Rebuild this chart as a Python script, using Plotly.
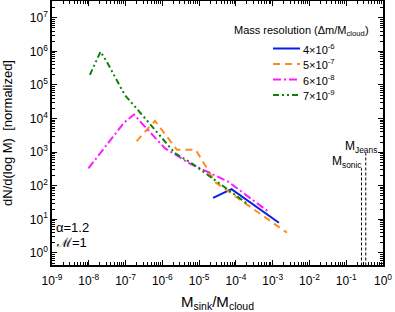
import plotly.graph_objects as go

# ---- data ----
blue_x = [2.4e-5, 7.6e-5, 1.48e-3]
blue_y = [43.6, 79.4, 7.9]

orange_x = [2.0e-7, 6.3e-7, 2.5e-6, 8.1e-6, 2.7e-5, 2.45e-3]
orange_y = [2140, 8500, 1175, 1175, 129, 4.0]

magenta_x = [9.8e-9, 9.1e-8, 1.70e-7, 2.75e-7, 1.17e-6, 5.6e-6, 6.0e-5, 7.4e-4]
magenta_y = [331, 7590, 13200, 7240, 1318, 457, 135, 17.4]

green_x = [1.07e-8, 2.09e-8, 3.09e-8, 9.55e-8, 3.39e-7, 2.19e-6, 6.31e-6, 1.95e-4]
green_y = [2.0e5, 9.8e5, 4.9e5, 5.0e4, 1.02e4, 933, 468, 30.2]

series_names = ["4×10<sup>-6</sup>", "5×10<sup>-7</sup>", "6×10<sup>-8</sup>", "7×10<sup>-9</sup>"]

m_sonic = 0.26
m_jeans = 0.34
m_sonic_top = 331
m_jeans_top = 933

x_tick_vals = [1e-9, 1e-8, 1e-7, 1e-6, 1e-5, 1e-4, 1e-3, 1e-2, 1e-1, 1e0]
x_tick_text = ["10<sup>-9</sup>", "10<sup>-8</sup>", "10<sup>-7</sup>", "10<sup>-6</sup>",
               "10<sup>-5</sup>", "10<sup>-4</sup>", "10<sup>-3</sup>", "10<sup>-2</sup>",
               "10<sup>-1</sup>", "10<sup>0</sup>"]
y_tick_vals = [1e0, 1e1, 1e2, 1e3, 1e4, 1e5, 1e6, 1e7]
y_tick_text = ["10<sup>0</sup>", "10<sup>1</sup>", "10<sup>2</sup>", "10<sup>3</sup>",
               "10<sup>4</sup>", "10<sup>5</sup>", "10<sup>6</sup>", "10<sup>7</sup>"]

FONT = "Liberation Sans, Arial, sans-serif"

# plot-area geometry in pixels (for paper-coordinate placement of labels)
L, R, T, B = 52, 383, 1, 265
def px(x):
    return (x - L) / (R - L)
def py(y):
    return 1 - (y - T) / (B - T)

fig = go.Figure()
styles = [
    ("#0a1ee6", "solid"),
    ("#ff8c1a", "7px,5px"),
    ("#ff1aff", "8px,3px,2px,3px"),
    ("#0a820a", "6px,3px,2px,3px,2px,3px"),
]
for (xs, ys), name, (col, dash) in zip(
        [(blue_x, blue_y), (orange_x, orange_y), (magenta_x, magenta_y), (green_x, green_y)],
        series_names, styles):
    fig.add_trace(go.Scatter(x=xs, y=ys, mode="lines", name=name, showlegend=False,
                             line=dict(color=col, width=2, dash=dash)))

for xv, top in [(m_sonic, m_sonic_top), (m_jeans, m_jeans_top)]:
    fig.add_trace(go.Scatter(x=[xv, xv], y=[0.3, top], mode="lines", showlegend=False,
                             line=dict(color="black", width=1, dash="3px,2px")))

# legend (compact, as in the reference)
legend_rows = [48.5, 64, 79.5, 95]
for name, (col, dash), yr in zip(series_names, styles, legend_rows):
    fig.add_shape(type="line", xref="paper", yref="paper",
                  x0=px(273), x1=px(300), y0=py(yr), y1=py(yr),
                  line=dict(color=col, width=2, dash=dash))
    fig.add_annotation(text=name, xref="paper", yref="paper",
                       x=px(301), y=py(yr), xanchor="left", yanchor="middle",
                       showarrow=False, font=dict(family=FONT, size=11, color="black"))

minor_x = [m * 10 ** e for e in range(-9, 0) for m in range(2, 10)]
minor_y = [m * 10 ** e for e in range(-1, 8) for m in range(2, 10)]

axis_common = dict(type="log", showgrid=False, zeroline=False, showline=True,
                   linecolor="black", linewidth=1.5, mirror="allticks",
                   ticks="inside", ticklen=5, tickwidth=1.2, tickcolor="black",
                   automargin=False,
                   tickfont=dict(family=FONT, size=12, color="black"))

fig.update_xaxes(range=[-9, 0], tickvals=x_tick_vals, ticktext=x_tick_text,
                 ticklabelstandoff=4,
                 minor=dict(tickvals=minor_x, ticks="inside", ticklen=3, tickcolor="black",
                            showgrid=False),
                 title=dict(text="M<sub>sink</sub>/M<sub>cloud</sub>",
                            font=dict(family=FONT, size=15, color="black")),
                 **axis_common)
fig.update_yaxes(range=[-0.36, 7.5], tickvals=y_tick_vals, ticktext=y_tick_text,
                 minor=dict(tickvals=minor_y, ticks="inside", ticklen=3, tickcolor="black",
                            showgrid=False),
                 title=dict(text="dN/d(log M)  [normalized]",
                            font=dict(family=FONT, size=13, color="black")),
                 **axis_common)

fig.add_annotation(text="Mass resolution (Δm/M<sub>cloud</sub>)", xref="paper", yref="paper",
                   x=px(232), y=py(31), xanchor="left", yanchor="middle",
                   showarrow=False, font=dict(family=FONT, size=11, color="black"))
fig.add_annotation(text="α=1.2", xref="paper", yref="paper",
                   x=px(54), y=py(227), xanchor="left", yanchor="middle",
                   showarrow=False, font=dict(family=FONT, size=13, color="black"))
fig.add_annotation(text="ℳ=1", xref="paper", yref="paper",
                   x=px(54), y=py(242), xanchor="left", yanchor="middle",
                   showarrow=False, font=dict(family=FONT, size=13, color="black"))
fig.add_annotation(text="M<sub>Jeans</sub>", xref="paper", yref="paper",
                   x=px(379), y=py(147), xanchor="right", yanchor="middle",
                   showarrow=False, font=dict(family=FONT, size=12, color="black"))
fig.add_annotation(text="M<sub>sonic</sub>", xref="paper", yref="paper",
                   x=px(364), y=py(162), xanchor="right", yanchor="middle",
                   showarrow=False, font=dict(family=FONT, size=12, color="black"))

fig.update_layout(
    width=395, height=312,
    margin=dict(l=L, r=395 - R, t=T, b=312 - B, autoexpand=False),
    paper_bgcolor="white", plot_bgcolor="white",
    showlegend=False,
)

fig.write_html("out.html", config={"displayModeBar": False},
               post_script="document.body.style.margin='0';document.body.style.overflow='hidden';")
